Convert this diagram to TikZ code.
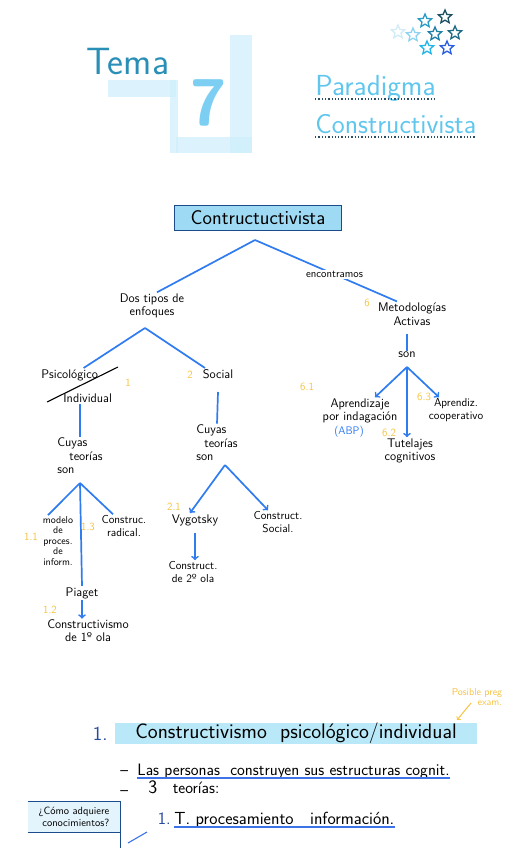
\documentclass[tikz,border=0pt]{standalone}
\usetikzlibrary{shapes.geometric}

\definecolor{mapblue}{HTML}{2F7BF0}
\definecolor{numyellow}{HTML}{F5C242}
\definecolor{boxnavy}{HTML}{1D4C8C}
\definecolor{boxfill}{HTML}{9FDAF4}
\definecolor{hlblue}{HTML}{B9E9F9}
\definecolor{temateal}{HTML}{2A8FB7}
\definecolor{titleblue}{HTML}{5FC6EE}
\definecolor{dotnavy}{HTML}{2A4F63}
\definecolor{bandblue}{HTML}{CDEEFC}
\definecolor{sevenblue}{HTML}{7CCFF2}
\definecolor{secblue}{HTML}{2A4AA0}
\definecolor{ulblue}{HTML}{3D72E8}
\definecolor{qfill}{HTML}{E3F4FC}
\definecolor{starA}{HTML}{D2ECF7}
\definecolor{starB}{HTML}{8FD3F0}
\definecolor{starC}{HTML}{2A9BC4}
\definecolor{starD}{HTML}{1D4F63}
\definecolor{starE}{HTML}{1F7FA6}
\definecolor{starF}{HTML}{1F6A85}
\definecolor{starG}{HTML}{22B5E8}
\definecolor{starH}{HTML}{2A5DE0}

\newcommand{\fsz}[2]{\fontsize{#1}{#2}\selectfont}

\begin{document}
\begin{tikzpicture}[
        x=1pt, y=-1pt,
        font=\sffamily,
        thick,
        >=to,
        branch/.style={draw=mapblue, line width=1.7pt},
        arrow/.style={branch, ->},
        hand/.style={inner sep=1pt, align=center, font=\sffamily\fsz{12.5}{13.5}},
        small/.style={inner sep=1pt, align=center, font=\sffamily\fsz{10}{10.5}},
        mid/.style={inner sep=1pt, align=center, font=\sffamily\fsz{11.5}{12.5}},
        num/.style={inner sep=0pt, text=numyellow, font=\sffamily\fsz{11}{12}},
        rootbox/.style={draw=boxnavy, fill=boxfill, line width=1.3pt, minimum width=167pt,
            minimum height=25pt, inner sep=2pt, font=\sffamily\fsz{20}{21}},
        band/.style={fill=bandblue, opacity=0.7},
        starnode/.style={star, star points=5, star point ratio=2.2, minimum size=14pt,
            inner sep=0pt, line width=1.3pt},
        uline/.style={draw=dotnavy, dotted, line width=1.3pt},
        bluline/.style={draw=ulblue, line width=1.1pt}
    ]

    \useasboundingbox (0,0) rectangle (517,848);

    % --- Cabecera: Tema 7 ---
    \fill[band] (108,80) rectangle (176,97);
    \fill[band] (170,80) rectangle (178,153);
    \fill[band] (176,137) rectangle (252,153);
    \fill[band] (230,35) rectangle (252,153);
    \node[text=temateal, font=\sffamily\fsz{38}{40}, anchor=base west, inner sep=0pt] (tema) at (86,75) {Tema};
    \node[text=sevenblue, font=\sffamily\bfseries\fsz{66}{68}, inner sep=0pt] (seven) at (209,103) {7};

    % --- Titulo ---
    \node[text=titleblue, font=\sffamily\fsz{29}{31}, anchor=base west, inner sep=0pt] (paradigma) at (315,96) {Paradigma};
    \node[text=titleblue, font=\sffamily\fsz{27.5}{30}, anchor=base west, inner sep=0pt] (constr) at (315,134) {Constructivista};
    \draw[uline] ([yshift=-3pt]paradigma.base west) -- ([yshift=-3pt]paradigma.base east);
    \draw[uline] ([yshift=-3pt]constr.base west) -- ([yshift=-3pt]constr.base east);

    % estrellas
    \foreach \sx/\sy/\sc [count=\i] in {398/32/starA, 413/35/starB, 425/21/starC, 445/17/starD,
            435/34/starE, 455/33/starF, 427/48/starG, 447/48/starH}
        \node[starnode, draw=\sc] (star\i) at (\sx,\sy) {};

    % --- Mapa: raiz ---
    \node[rootbox] (root) at (258,218) {Contructuctivista};
    \coordinate (rootfork) at (255,240);

    \node[hand] (dos) at (152,306) {Dos tipos de\\enfoques};
    \node[hand] (metod) at (412,314) {Metodologías\\Activas};
    \node[num] (n6) at (367,303) {6};

    \draw[branch] (rootfork) -- ([xshift=5pt]dos.north);
    \draw[branch] (rootfork) -- node[pos=0.56, fill=white, inner sep=1pt, font=\sffamily\fsz{11}{12}] (encontr) {encontramos}
        ([xshift=-15pt]metod.north);

    % --- Rama psicologico / individual ---
    \coordinate (dosfork) at (145,328);
    \node[hand, anchor=west] (psico) at (40,375) {Psicológico};
    \node[hand, anchor=west] (indiv) at (62,398) {Individual};
    \coordinate (slashA) at (47,402);
    \coordinate (slashB) at (118,367);
    \draw[line width=1.1pt] (slashA) -- (slashB);
    \node[num] (n1) at (128,383) {1};

    \node[hand] (social) at (218,374) {Social};
    \node[num] (n2) at (190,375) {2};

    \draw[branch] (dosfork) -- ([xshift=14pt]psico.north);
    \draw[branch] (dosfork) -- ([xshift=-13pt]social.north);

    % cuyas teorias son (izquierda)
    \node[hand, align=left] (cuyasL) at (80,456) {Cuyas\\\hspace{12pt}teorías\\son};
    \draw[branch] (cuyasL.north |- indiv.south) -- (cuyasL.north);
    \coordinate (forkL) at (80,483);

    \node[small] (modelo) at (58,541) {modelo\\de\\proces.\\de\\inform.};
    \node[num] (n11) at (31,537) {1.1};
    \node[mid] (radical) at (124,526) {Construc.\\radical.};
    \node[num] (n13) at (88,527) {1.3};
    \node[hand] (piaget) at (82,593) {Piaget};
    \node[num] (n12) at (50,610) {1.2};
    \node[mid, font=\sffamily\fsz{12.5}{13}] (constr1) at (88,631) {Constructivismo\\de 1º ola};

    \draw[branch] (forkL) -- ([xshift=-10pt]modelo.north);
    \draw[branch] (forkL) -- (piaget.north);
    \draw[branch] (forkL) -- ([xshift=-11pt]radical.north);
    \draw[arrow] (piaget.south) -- (piaget.south |- constr1.north);

    % --- Rama social ---
    \node[hand, align=left] (cuyasS) at (217,443) {Cuyas\\\hspace{8pt}teorías\\son};
    \draw[branch] ([yshift=-12pt]social.south) -- (cuyasS.north);
    \coordinate (forkS) at (225,465);

    \node[hand] (vyg) at (195,520) {Vygotsky};
    \node[num] (n21) at (174,507) {2.1};
    \node[mid] (constrsoc) at (278,522) {Construct.\\Social.};
    \node[mid] (constr2) at (193,572) {Construct.\\de 2º ola};

    \draw[arrow] (forkS) -- ([xshift=-5pt]vyg.north);
    \draw[arrow] (forkS) -- ([xshift=-10pt]constrsoc.north);
    \draw[arrow] ([yshift=-6pt]vyg.south) -- (vyg.south |- constr2.north);

    % --- Rama metodologias activas ---
    \node[hand] (son) at (407,355) {son};
    \draw[branch] (metod.south) ++(-5,7) -- (son.north);
    \coordinate (forkR) at (407,367);

    \node[hand] (aprend) at (360,411) {Aprendizaje\\por indagación};
    \node[num] (n61) at (307,387) {6.1};
    \node[hand, text=mapblue, font=\sffamily\fsz{11}{12}] (abp) at (349,432) {(ABP)};
    \node[hand] (tutel) at (410,451) {Tutelajes\\cognitivos};
    \node[num] (n62) at (389,433) {6.2};
    \node[mid] (coop) at (456,410) {Aprendiz.\\cooperativo};
    \node[num] (n63) at (424,397) {6.3};

    \draw[arrow] (forkR) -- ([xshift=15pt]aprend.north);
    \draw[arrow] (forkR) -- (forkR |- tutel.north);
    \draw[arrow] (forkR) -- ([xshift=-17pt]coop.north);

    % --- Apuntes ---
    \node[small, text=numyellow, align=right] (posible) at (477,697) {Posible preg\\exam.};
    \coordinate (pregTip) at (457,720);
    \draw[->, draw=numyellow, line width=1pt] ([xshift=-6pt,yshift=-6pt]posible.center) -- (pregTip);

    \node[text=secblue, font=\sffamily\fsz{20}{22}, anchor=base east, inner sep=0pt] (sec1num) at (108,740) {1.};
    \node[fill=hlblue, minimum width=362pt, minimum height=21pt, inner sep=0pt,
        font=\sffamily\fsz{21}{22}] (sec1) at (296,733) {Constructivismo\ \ psicológico/individual};

    \node[anchor=base west, inner sep=0pt, font=\sffamily\fsz{16.5}{18}] (dash1) at (120,775) {--};
    \node[anchor=base west, inner sep=0pt, font=\sffamily\fsz{16.5}{18}] (personas) at (137,775) {Las personas\ \ construyen sus estructuras cognit.};
    \draw[bluline] ([yshift=-3pt]personas.base west) -- ([yshift=-3pt]personas.base east);
    \node[anchor=base west, inner sep=0pt, font=\sffamily\fsz{16.5}{18}] (dash2) at (120,795) {--};
    \node[anchor=base west, inner sep=0pt, font=\sffamily\fsz{16.5}{18}] (tres) at (148,793) {{\fsz{19}{20}3}\ \ \ teorías:};

    \node[fill=qfill, minimum width=92pt, minimum height=30pt, inner sep=1pt, align=right,
        font=\sffamily\fsz{10.5}{11.5}] (como) at (74,817) {¿Cómo adquiere\\conocimientos?};
    \draw[draw=boxnavy, line width=1.1pt] (como.north west) -- (como.north east) -- (como.east |- 0,848);
    \draw[draw=boxnavy, line width=1.1pt] (como.south west) -- (como.south east);

    \coordinate (tickA) at (147,832);
    \coordinate (tickB) at (128,843);
    \draw[bluline] (tickA) -- (tickB);

    \node[text=secblue, anchor=base east, inner sep=0pt, font=\sffamily\fsz{17.5}{19}] (t1num) at (171,824) {1.};
    \node[anchor=base west, inner sep=0pt, font=\sffamily\fsz{17.5}{19}] (tproc) at (174,824) {T.\ procesamiento\ \ \ información.};
    \draw[bluline] ([yshift=-3pt]tproc.base west) -- ([yshift=-3pt]tproc.base east);

\end{tikzpicture}
\end{document}
